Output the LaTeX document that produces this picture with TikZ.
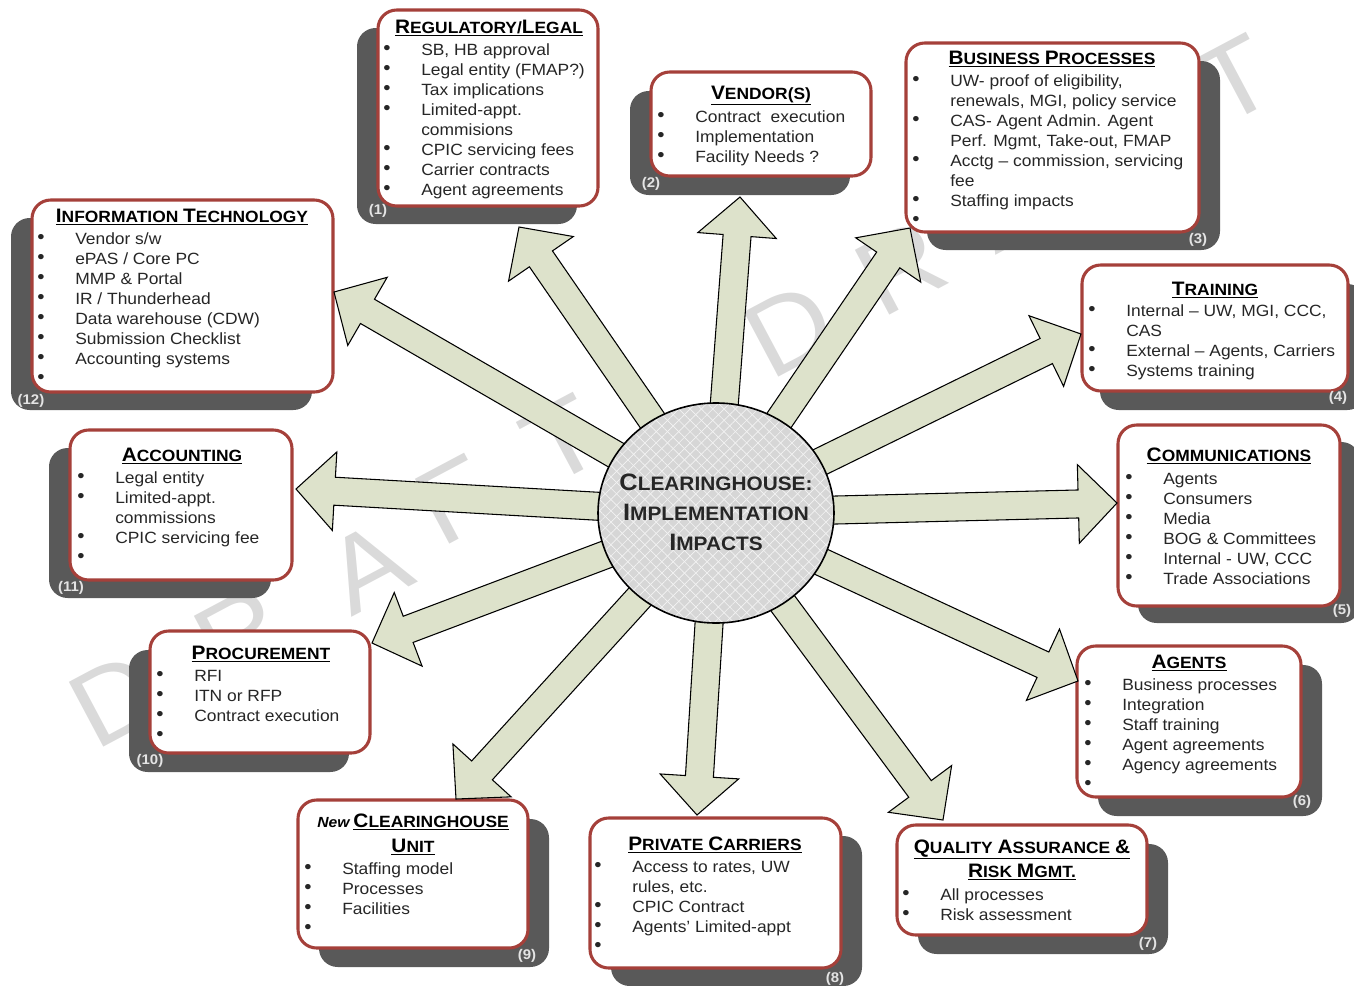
\documentclass[tikz,border=0pt]{standalone}
\usepackage{fontspec}
\setmainfont{Liberation Sans}[FakeStretch=1.07]
\usetikzlibrary{calc,patterns.meta,shapes.geometric}
\definecolor{bred}{HTML}{A5403A}
\definecolor{shad}{HTML}{595959}
\definecolor{arrg}{HTML}{DDE2CB}
\definecolor{wm}{HTML}{DADADA}
\definecolor{txt}{HTML}{262626}
\definecolor{circ}{HTML}{D6D6D6}
\definecolor{lbl}{HTML}{E4E4E4}
\newcommand\Bg[1]{{\fontsize{14.6pt}{17pt}\selectfont #1}}
\newcommand\Sm[1]{{\fontsize{12.2pt}{17pt}\selectfont #1}}
\newcommand\CBg[1]{{\fontsize{17.8pt}{22.5pt}\selectfont #1}}
\newcommand\CSm[1]{{\fontsize{14.6pt}{22.5pt}\selectfont #1}}
\newcommand\bul{\makebox[28.5pt][l]{\raisebox{0.3pt}{\fontsize{14.5pt}{15pt}\selectfont\textbullet}}}
\newcommand\nob{\makebox[28.5pt][l]{}}
\newcommand\firststrut{\rule{0pt}{12pt}}
\newcommand\impbox[7]{%
  \fill[shadowbox] (#2+#6,#3+#7) rectangle (#4+#6,#5+#7);
  \draw[whitebox] (#2,#3) rectangle (#4,#5);
}
\newcommand\blockarrow[2]{%
  \coordinate (hb) at ($(#2)!29pt!(#1)$);
  \draw[arrowst] ($(#1)!10.5pt!90:(#2)$) -- ($(hb)!10.5pt!90:(#2)$) -- ($(hb)!29.5pt!90:(#2)$) -- (#2)
     -- ($(hb)!29.5pt!-90:(#2)$) -- ($(hb)!10.5pt!-90:(#2)$) -- ($(#1)!10.5pt!-90:(#2)$) -- cycle;
}
\begin{document}
\begin{tikzpicture}[x=0.75pt,y=-0.75pt,
  shadowbox/.style={fill=shad, rounded corners=14pt},
  whitebox/.style={draw=bred, line width=2.3pt, fill=white, rounded corners=14pt},
  ttl/.style={anchor=base, inner sep=0pt, font=\bfseries, text=black},
  lst/.style={anchor=north west, inner sep=0pt, align=left, text=txt, font=\fontsize{12.2pt}{15pt}\selectfont},
  num/.style={inner sep=0pt, text=lbl, font=\bfseries\fontsize{10.5pt}{12pt}\selectfont},
  arrowst/.style={draw=black, line width=0.8pt, fill=arrg, line join=miter},
  wmark/.style={text=wm, rotate=28, inner sep=0pt, font=\fontsize{80pt}{80pt}\selectfont}
]
\useasboundingbox (0,0) rectangle (1354,986);
\clip (0,0) rectangle (1354,986);
% watermark
\node[wmark] (w1) at (115,700) {D};
\node[wmark] (w2) at (240,634) {R};
\node[wmark] (w3) at (368,567) {A};
\node[wmark] (w4) at (455,500) {F};
\node[wmark] (w5) at (562,440) {T};
\node[wmark] (w6) at (790,330) {D};
\node[wmark] (w7) at (901,268) {R};
\node[wmark] (w8) at (1012,205) {A};
\node[wmark] (w9) at (1124,143) {F};
\node[wmark] (w10) at (1235,80) {T};

% boxes
\impbox{b1}{378}{10}{598}{206}{-21}{18}
\impbox{b2}{651}{72}{871}{176}{-21}{19}
\impbox{b3}{906}{43}{1199}{232}{21}{18}
\impbox{b4}{1082}{265}{1348}{391}{18}{19}
\impbox{b5}{1118}{425}{1340}{606}{20}{17}
\impbox{b6}{1077}{646}{1301}{797}{21}{19}
\impbox{b7}{897}{825}{1147}{935}{21}{19}
\impbox{b8}{590}{818}{841}{968}{21}{18}
\impbox{b9}{298}{800}{528}{948}{21}{19}
\impbox{b10}{150}{631}{370}{753}{-21}{19}
\impbox{b11}{70}{430}{292}{580}{-21}{18}
\impbox{b12}{32}{200}{333}{392}{-21}{18}

% number labels
\node[num] (n1) at (378,211) {(1)};
\node[num] (n2) at (651,184) {(2)};
\node[num] (n3) at (1198,240) {(3)};
\node[num] (n4) at (1338,398) {(4)};
\node[num] (n5) at (1342,611) {(5)};
\node[num] (n6) at (1302,802) {(6)};
\node[num] (n7) at (1148,944) {(7)};
\node[num] (n8) at (835,979) {(8)};
\node[num] (n9) at (527,956) {(9)};
\node[num] (n10) at (150,761) {(10)};
\node[num] (n11) at (71,588) {(11)};
\node[num] (n12) at (31,401) {(12)};

% titles
\node[ttl] (t1) at (489,33) {\underline{\Bg{R}\Sm{EGULATORY/}\Bg{L}\Sm{EGAL}}};
\node[ttl] (t2) at (761,99) {\underline{\Bg{V}\Sm{ENDOR(S)}}};
\node[ttl] (t3) at (1052,64) {\underline{\Bg{B}\Sm{USINESS }\Bg{P}\Sm{ROCESSES}}};
\node[ttl] (t4) at (1215,295) {\underline{\Bg{T}\Sm{RAINING}}};
\node[ttl] (t5) at (1229,461) {\underline{\Bg{C}\Sm{OMMUNICATIONS}}};
\node[ttl] (t6) at (1189,668) {\underline{\Bg{A}\Sm{GENTS}}};
\node[ttl] (t7a) at (1022,853) {\underline{\Bg{Q}\Sm{UALITY }\Bg{A}\Sm{SSURANCE }\Bg{\&}}};
\node[ttl] (t7b) at (1022,877) {\underline{\Bg{R}\Sm{ISK }\Bg{M}\Sm{GMT.}}};
\node[ttl] (t8) at (715,850) {\underline{\Bg{P}\Sm{RIVATE }\Bg{C}\Sm{ARRIERS}}};
\node[ttl] (t9a) at (413,827) {{\fontsize{11pt}{13pt}\selectfont\itshape New} \underline{\Bg{C}\Sm{LEARINGHOUSE}}};
\node[ttl] (t9b) at (413,852) {\underline{\Bg{U}\Sm{NIT}}};
\node[ttl] (t10) at (261,659) {\underline{\Bg{P}\Sm{ROCUREMENT}}};
\node[ttl] (t11) at (182,461) {\underline{\Bg{A}\Sm{CCOUNTING}}};
\node[ttl] (t12) at (182,222) {\underline{\Bg{I}\Sm{NFORMATION }\Bg{T}\Sm{ECHNOLOGY}}};

% lists
\node[lst] (l1) at (383,39) {\firststrut\bul SB, HB approval\\ \bul Legal entity (FMAP?)\\ \bul Tax implications\\ \bul Limited-appt.\\ \nob commisions\\ \bul CPIC servicing fees\\ \bul Carrier contracts\\ \bul Agent agreements};
\node[lst] (l2) at (657,106) {\firststrut\bul Contract~ execution\\ \bul Implementation\\ \bul Facility Needs ?};
\node[lst] (l3) at (912,70) {\firststrut\bul UW- proof of eligibility,\\ \nob renewals, MGI, policy service\\ \bul CAS- Agent Admin. Agent\\ \nob Perf. Mgmt, Take-out, FMAP\\ \bul Acctg \textendash{} commission, servicing\\ \nob fee\\ \bul Staffing impacts\\ \bul};
\node[lst] (l4) at (1088,300) {\firststrut\bul Internal \textendash{} UW, MGI, CCC,\\ \nob CAS\\ \bul External \textendash{} Agents, Carriers\\ \bul Systems training};
\node[lst] (l5) at (1125,468) {\firststrut\bul Agents\\ \bul Consumers\\ \bul Media\\ \bul BOG \& Committees\\ \bul Internal - UW, CCC\\ \bul Trade Associations};
\node[lst] (l6) at (1084,674) {\firststrut\bul Business processes\\ \bul Integration\\ \bul Staff training\\ \bul Agent agreements\\ \bul Agency agreements\\ \bul};
\node[lst] (l7) at (902,884) {\firststrut\bul All processes\\ \bul Risk assessment};
\node[lst] (l8) at (594,856) {\firststrut\bul Access to rates, UW\\ \nob rules, etc.\\ \bul CPIC Contract\\ \bul Agents' Limited-appt\\ \bul};
\node[lst] (l9) at (304,858) {\firststrut\bul Staffing model\\ \bul Processes\\ \bul Facilities\\ \bul};
\node[lst] (l10) at (156,665) {\firststrut\bul RFI\\ \bul ITN or RFP\\ \bul Contract execution\\ \bul};
\node[lst] (l11) at (77,467) {\firststrut\bul Legal entity\\ \bul Limited-appt.\\ \nob commissions\\ \bul CPIC servicing fee\\ \bul};
\node[lst] (l12) at (37,228) {\firststrut\bul Vendor s/w\\ \bul ePAS / Core PC\\ \bul MMP \& Portal\\ \bul IR / Thunderhead\\ \bul Data warehouse (CDW)\\ \bul Submission Checklist\\ \bul Accounting systems\\ \bul};

% centre and arrows
\coordinate (c0) at (716,513);
\coordinate (a1) at (519,227);
\coordinate (a2) at (740,197);
\coordinate (a3) at (910,228);
\coordinate (a4) at (1081,334);
\coordinate (a5) at (1117,503);
\coordinate (a6) at (1078,681);
\coordinate (a7) at (943,820);
\coordinate (a8) at (697,815);
\coordinate (a9) at (456,799);
\coordinate (a10) at (372,643);
\coordinate (a11) at (296,489);
\coordinate (a12) at (334,292);
\foreach \t in {a1,a2,a3,a4,a5,a6,a7,a8,a9,a10,a11,a12}{\blockarrow{c0}{\t}}

\node[ellipse, minimum width=177pt, minimum height=165pt, inner sep=0pt, fill=circ] (c) at (c0) {};
\fill[pattern={Lines[angle=45,distance=6pt,line width=0.5pt]}, pattern color=white!70!circ] (c.center) ellipse [x radius=88.5pt, y radius=82.5pt];
\fill[pattern={Lines[angle=-45,distance=6pt,line width=0.5pt]}, pattern color=white!70!circ] (c.center) ellipse [x radius=88.5pt, y radius=82.5pt];
\draw[line width=1.2pt] (c.center) ellipse [x radius=88.5pt, y radius=82.5pt];
\node[align=center, inner sep=0pt, font=\bfseries\fontsize{14.6pt}{22.5pt}\selectfont, text=black!85] (ct) at (716,512) {\CBg{C}\CSm{LEARINGHOUSE:}\\ \CBg{I}\CSm{MPLEMENTATION}\\ \CBg{I}\CSm{MPACTS}};
\end{tikzpicture}
\end{document}
